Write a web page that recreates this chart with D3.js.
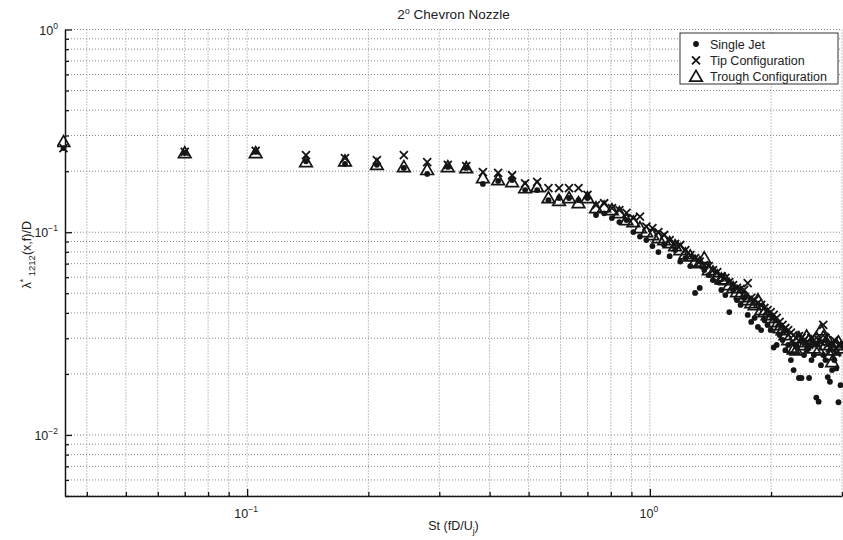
<!DOCTYPE html>
<html>
<head>
<meta charset="utf-8">
<script src="https://cdn.jsdelivr.net/npm/d3@7"></script>
<style>
  html, body { margin: 0; padding: 0; background: #fff; }
  svg { display: block; font-family: "Liberation Sans", Arial, Helvetica, sans-serif; }
</style>
</head>
<body>
<svg id="chart" width="843" height="540"></svg>
<script>
// Strouhal numbers of the spectral bins
const strouhal = [0.035,0.070,0.105,0.140,0.175,0.210,0.245,0.280,0.315,0.350,
  0.385,0.420,0.455,0.490,0.525,0.560,0.595,0.630,0.665,0.700,
  0.735,0.770,0.805,0.840,0.875,0.910,0.945,0.980,1.015,1.050,
  1.085,1.120,1.155,1.190,1.225,1.260,1.295,1.330,1.365,1.400,
  1.435,1.470,1.505,1.540,1.575,1.610,1.645,1.680,1.715,1.750,
  1.785,1.820,1.855,1.890,1.925,1.960,1.995,2.030,2.065,2.100,
  2.135,2.170,2.205,2.240,2.275,2.310,2.345,2.380,2.415,2.450,
  2.485,2.520,2.555,2.590,2.625,2.660,2.695,2.730,2.765,2.800,
  2.835,2.870,2.905,2.940,2.975];

// Length scale λ*1212(x,f)/D for each configuration
const singleJet = [0.260,0.246,0.249,0.224,0.217,0.215,0.2075,0.194,0.210,0.2075,
  0.173,0.179,0.181,0.1615,0.1615,0.144,0.1475,0.1475,0.144,0.1475,
  0.1216,0.124,0.1175,0.1122,0.1148,0.1002,0.0952,0.0915,0.0855,0.0798,
  0.0865,0.0762,0.0817,0.0717,0.0746,0.0681,0.0502,0.0531,0.0651,0.0615,
  0.0581,0.0568,0.0519,0.0490,0.0404,0.0519,0.0463,0.0438,0.0474,0.0391,
  0.0361,0.0378,0.0341,0.0329,0.0369,0.0349,0.0329,0.0270,0.0278,0.0311,
  0.0294,0.0262,0.0278,0.0234,0.0209,0.0278,0.0191,0.0191,0.0248,0.0262,
  0.0191,0.0234,0.0248,0.0153,0.0146,0.0221,0.0248,0.0234,0.0193,0.0183,
  0.0209,0.0234,0.0213,0.0145,0.0176];

const tipConfig = [0.260,0.249,0.252,0.240,0.232,0.227,0.240,0.222,0.215,0.212,
  0.198,0.196,0.191,0.174,0.177,0.165,0.165,0.165,0.165,0.153,
  0.136,0.139,0.1316,0.1287,0.1245,0.1175,0.1195,0.1066,0.1049,0.1002,
  0.0969,0.0915,0.0875,0.0865,0.0817,0.0771,0.0746,0.0717,0.0689,0.0681,
  0.0651,0.0636,0.0608,0.0595,0.0568,0.0549,0.0531,0.0525,0.0519,0.0561,
  0.0474,0.0463,0.0448,0.0438,0.0423,0.0413,0.0404,0.0391,0.0378,0.0361,
  0.0349,0.0337,0.0329,0.0320,0.0311,0.0301,0.0307,0.0301,0.0294,0.0287,
  0.0278,0.0301,0.0294,0.0283,0.0294,0.0287,0.0349,0.0301,0.0278,0.0268,
  0.0278,0.0294,0.0255,0.0278,0.0278];

const troughConfig = [0.279,0.246,0.246,0.222,0.224,0.215,0.210,0.203,0.210,0.2075,
  0.185,0.181,0.177,0.165,0.167,0.1475,0.143,0.1475,0.1395,0.1475,
  0.1316,0.133,0.1287,0.1245,0.1148,0.1122,0.1049,0.1002,0.0969,0.0936,
  0.0915,0.0885,0.0855,0.0817,0.0780,0.0762,0.0717,0.0705,0.0746,0.0651,
  0.0636,0.0608,0.0587,0.0581,0.0549,0.0531,0.0507,0.0495,0.0479,0.0463,
  0.0448,0.0438,0.0463,0.0413,0.0404,0.0391,0.0378,0.0361,0.0349,0.0337,
  0.0329,0.0311,0.0294,0.0270,0.0265,0.0262,0.0301,0.0287,0.0278,0.0307,
  0.0294,0.0287,0.0268,0.0301,0.0262,0.0329,0.0304,0.0278,0.0294,0.0248,
  0.0229,0.0262,0.0278,0.0287,0.0268];

const seriesNames = ["Single Jet", "Tip Configuration", "Trough Configuration"];
const xDomain = [0.0353, 3.0];
const yDomain = [0.005, 1];
const xMajor = [0.1, 1];
const yMajor = [1, 0.1, 0.01];

const svg = d3.select("#chart");
const plotLeft = 65, plotRight = 842, plotTop = 29.5, plotBottom = 496;
const ink = "#151515";

const x = d3.scaleLog().domain(xDomain).range([plotLeft, plotRight]);
const y = d3.scaleLog().domain(yDomain).range([plotBottom, plotTop]);

// dotted grid on every decade sub-division
const grid = svg.append("g").attr("stroke", "#8a8a8a").attr("stroke-width", 1)
  .attr("stroke-dasharray", "1,2");
grid.selectAll("line.gx").data(x.ticks()).join("line").attr("class", "gx")
  .attr("x1", d => x(d)).attr("x2", d => x(d)).attr("y1", plotTop).attr("y2", plotBottom);
grid.selectAll("line.gy").data(y.ticks()).join("line").attr("class", "gy")
  .attr("y1", d => y(d)).attr("y2", d => y(d)).attr("x1", plotLeft).attr("x2", plotRight);

// axes with inward-pointing ticks
const isMajor = v => Math.abs(Math.log10(v) - Math.round(Math.log10(v))) < 1e-6;
const xAxis = d3.axisTop(x).tickValues(x.ticks()).tickFormat("")
  .tickSizeInner(0).tickSizeOuter(0);
const gx = svg.append("g").attr("transform", `translate(0,${plotBottom})`).call(xAxis);
gx.select(".domain").attr("stroke", ink).attr("stroke-width", 1.5);
gx.selectAll(".tick line").attr("stroke", ink).attr("stroke-width", 1.3)
  .attr("y2", d => isMajor(d) ? -7 : -4);

const yAxis = d3.axisRight(y).tickValues(y.ticks()).tickFormat("")
  .tickSizeInner(0).tickSizeOuter(0);
const gy = svg.append("g").attr("transform", `translate(${plotLeft},0)`).call(yAxis);
gy.select(".domain").attr("stroke", ink).attr("stroke-width", 1.5);
gy.selectAll(".tick line").attr("stroke", ink).attr("stroke-width", 1.3)
  .attr("x2", d => isMajor(d) ? 7 : 4);

// power-of-ten tick labels
function powerLabel(g, v, px, py, anchor) {
  const t = g.append("text").attr("x", px).attr("y", py).attr("text-anchor", anchor)
    .attr("font-size", 12.5).attr("fill", "#222");
  t.append("tspan").text("10");
  t.append("tspan").attr("dy", -6).attr("font-size", 8.5).text(String(Math.round(Math.log10(v))).replace("-", "\u2212"));
}
xMajor.forEach(v => powerLabel(svg, v, x(v) - 1, 518, "middle"));
yMajor.forEach(v => powerLabel(svg, v, 58, y(v) + 5, "end"));

// title
const title = svg.append("text").attr("x", (plotLeft + plotRight) / 2).attr("y", 19)
  .attr("text-anchor", "middle").attr("font-size", 13.5).attr("fill", "#222");
title.append("tspan").text("2");
title.append("tspan").attr("dy", -5).attr("font-size", 9).text("o");
title.append("tspan").attr("dy", 5).text(" Chevron Nozzle");

// x label
const xl = svg.append("text").attr("x", (plotLeft + plotRight) / 2).attr("y", 530)
  .attr("text-anchor", "middle").attr("font-size", 12.5).attr("fill", "#222");
xl.append("tspan").text("St (fD/U");
xl.append("tspan").attr("dy", 4).attr("font-size", 8.5).text("j");
xl.append("tspan").attr("dy", -4).text(")");

// y label
const yl = svg.append("text").attr("transform", `translate(31,${(plotTop + plotBottom) / 2 - 8}) rotate(-90)`)
  .attr("text-anchor", "middle").attr("font-size", 12.5).attr("fill", "#222");
yl.append("tspan").text("\u03bb");
yl.append("tspan").attr("dy", -5).attr("font-size", 8.5).text("*");
yl.append("tspan").attr("dy", 9).attr("font-size", 9.5).text(" 1212");
yl.append("tspan").attr("dy", -4).text("(x,f)/D");

// markers
svg.append("clipPath").attr("id", "plotclip").append("rect")
  .attr("x", plotLeft - 8).attr("y", plotTop - 8)
  .attr("width", plotRight - plotLeft + 16).attr("height", plotBottom - plotTop + 8);
const plot = svg.append("g").attr("clip-path", "url(#plotclip)");

const tri = d3.symbol().type(d3.symbolTriangle).size(68);
function drawDot(g, cx, cy) {
  g.append("circle").attr("cx", cx).attr("cy", cy).attr("r", 2.9).attr("fill", ink);
}
function drawCross(g, cx, cy) {
  const s = 4;
  g.append("path").attr("d", `M${cx - s},${cy - s}L${cx + s},${cy + s}M${cx - s},${cy + s}L${cx + s},${cy - s}`)
    .attr("stroke", ink).attr("stroke-width", 1.8).attr("fill", "none");
}
function drawTri(g, cx, cy) {
  g.append("path").attr("d", tri()).attr("transform", `translate(${cx},${cy + 1})`)
    .attr("stroke", ink).attr("stroke-width", 1.7).attr("fill", "none");
}

const series = [
  { values: troughConfig, draw: drawTri },
  { values: tipConfig, draw: drawCross },
  { values: singleJet, draw: drawDot }
];
series.forEach(s => {
  s.values.forEach((v, i) => s.draw(plot, x(strouhal[i]), y(v)));
});

// legend
const lg = svg.append("g");
lg.append("rect").attr("x", 680).attr("y", 33).attr("width", 158).attr("height", 51)
  .attr("fill", "#fff").attr("stroke", "#333").attr("stroke-width", 1);
const drawers = [drawDot, drawCross, drawTri];
seriesNames.forEach((name, i) => {
  const cy = 44 + i * 16.3;
  drawers[i](lg, 696, cy);
  lg.append("text").attr("x", 710).attr("y", cy + 4.5).attr("font-size", 12.5)
    .attr("fill", "#222").text(name);
});
</script>
</body>
</html>
